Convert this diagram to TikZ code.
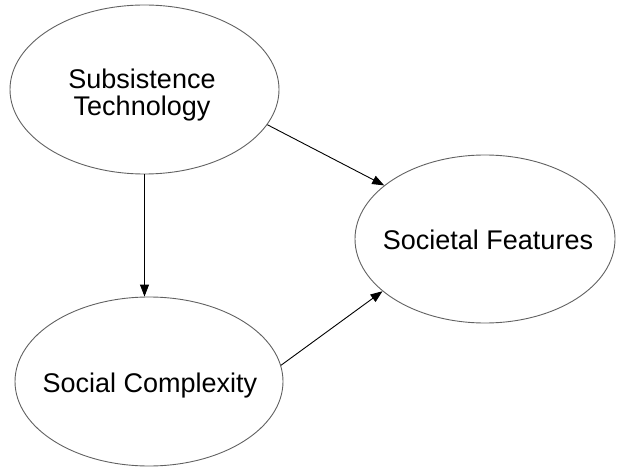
\documentclass[tikz,border=0pt]{standalone}
\usepackage{fontspec}
\setmainfont{Liberation Sans}
\usetikzlibrary{shapes.geometric,arrows.meta}
\begin{document}
\begin{tikzpicture}[x=1pt,y=-1pt,
  oval/.style={ellipse,draw=black!62,line width=0.9pt,inner sep=0pt},
  lbl/.style={align=center,inner sep=0pt,font=\fontsize{27}{27}\selectfont},
  link/.style={draw=black,line width=0.9pt,-{Triangle[length=12pt,width=9pt]}}]
\useasboundingbox (0,0) rectangle (618,470);
\node[oval,minimum width=269pt,minimum height=169pt] (tech) at (144.5,89.5) {};
\node[oval,minimum width=268pt,minimum height=169pt] (cplx) at (149,381.5) {};
\node[oval,minimum width=260pt,minimum height=168pt] (feat) at (485,239) {};
\node[lbl] (techlbl) at (142,95.5) {Subsistence\\Technology};
\node[lbl,anchor=base] (cplxlbl) at (150,392) {Social Complexity};
\node[lbl,anchor=base] (featlbl) at (488,250) {Societal Features};
\draw[link] (tech.south) -- (tech.south |- cplx.north);
\draw[link] (tech.-16.6) -- (feat.152.5);
\draw[link] (cplx.7) -- (feat.207);
\end{tikzpicture}
\end{document}
